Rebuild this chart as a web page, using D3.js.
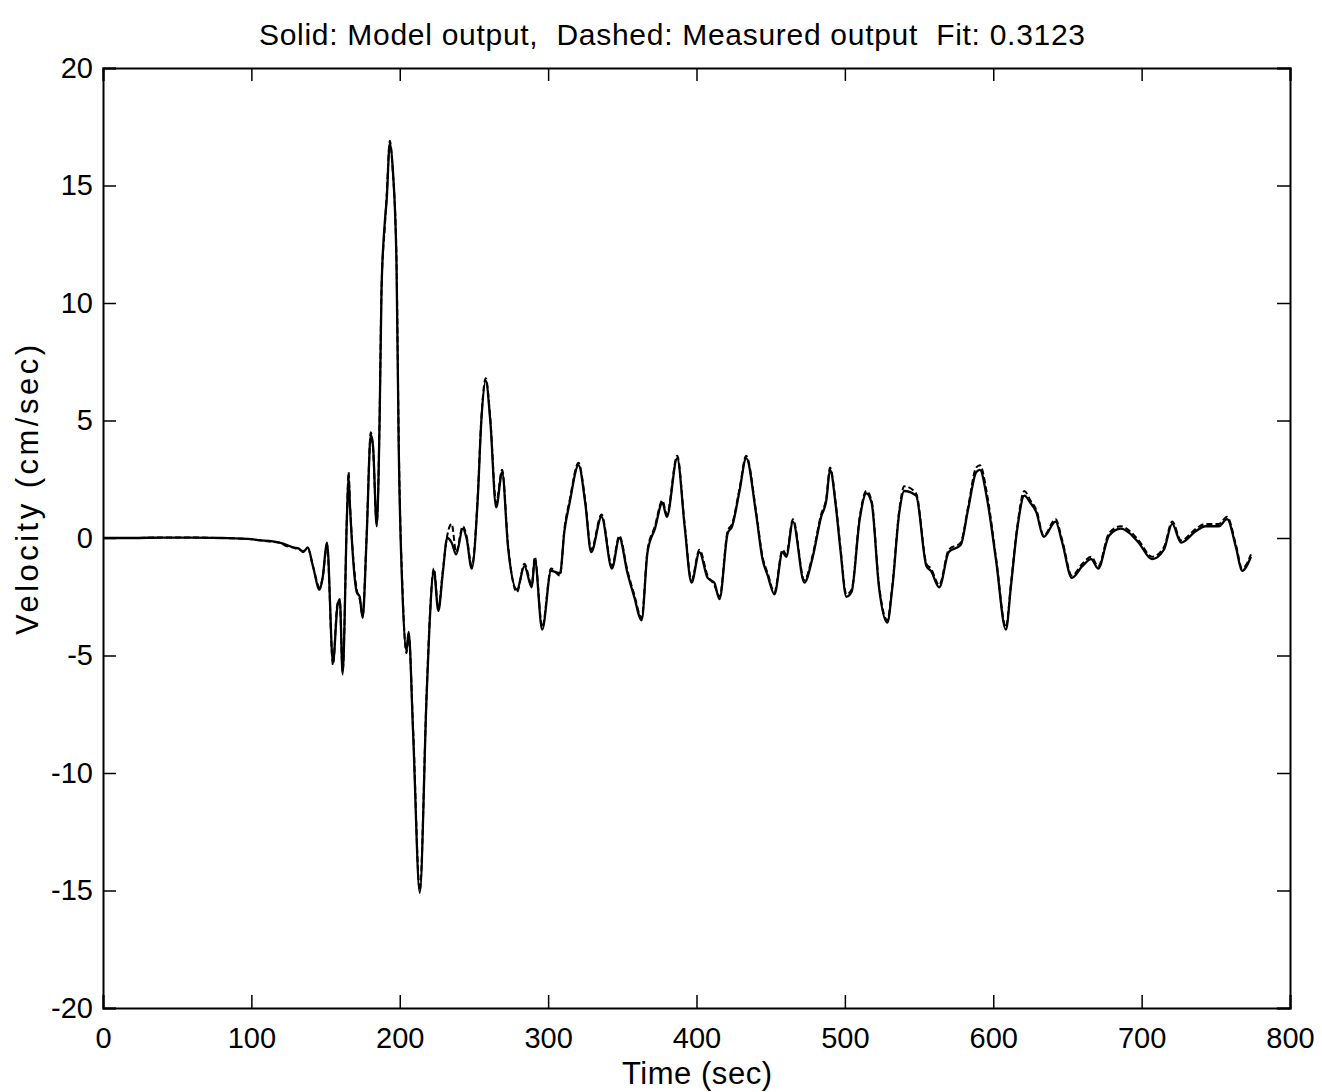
<!DOCTYPE html>
<html>
<head>
<meta charset="utf-8">
<script src="https://cdnjs.cloudflare.com/ajax/libs/d3/7.8.5/d3.min.js"></script>
<style>
  body { margin: 0; background: #fff; }
  text { font-family: "Liberation Sans", Arial, Helvetica, sans-serif; fill: #000; }
</style>
</head>
<body>
<div id="chart"></div>
<script>
// time (sec), velocity (cm/sec)
var modelPts = [
  [0, 0], [20, 0], [40, 0.02], [60, 0.02], [80, 0], [100, -0.05], [106, -0.1], [112, -0.12],
  [119, -0.2], [124, -0.3], [128, -0.4], [132, -0.45], [135, -0.6], [138, -0.4], [141.5, -1.2],
  [146, -2.2], [148, -1.7], [151, -0.2], [155, -5.3], [158, -2.9], [159.6, -2.6], [161.5, -5.8],
  [164.5, 1.1], [165.5, 2.6], [166.5, 1.3], [171, -2.3], [173, -2.5], [175, -3.4], [177.6, -0.1],
  [180.5, 4.4], [182, 3.9], [184.5, 0.5], [186.5, 5.3], [187.7, 10.5], [190, 13.5], [191.2, 14.4],
  [193.3, 16.8], [195.3, 15.7], [197.8, 11.7], [199.3, 3.9], [202, -2.6], [204.5, -4.8], [206, -4.0],
  [209, -8.3], [213.5, -15.1], [218, -6.9], [220, -3.8], [223, -1.4], [226, -3.1], [229, -1.5],
  [232, 0.0], [235, -0.2], [238, -0.7], [242.5, 0.4], [245, 0.0], [248.5, -1.3], [252.5, 1.6],
  [255, 5.0], [258, 6.7], [261, 5.0], [265, 1.3], [269, 2.8], [273, -0.4], [279, -2.2], [284, -1.2],
  [289, -2.1], [291, -0.9], [296, -3.9], [302, -1.4], [308, -1.5], [311, 0.3], [314.5, 1.5],
  [320.5, 3.1], [325, 1.5], [329, -0.6], [336, 0.9], [343, -1.3], [348, 0.0], [353.5, -1.5],
  [358, -2.5], [363, -3.5], [367, -0.6], [372, 0.4], [377, 1.5], [380, 0.9], [387, 3.4], [392, 0.5],
  [396.6, -1.9], [402, -0.6], [407.5, -1.7], [412, -1.9], [415.5, -2.6], [421, 0.2], [424, 0.5],
  [429, 2.0], [433.5, 3.4], [440, 1.1], [444.5, -0.9], [448, -1.6], [452.5, -2.4], [458, -0.6],
  [460.5, -0.8], [465, 0.7], [472.7, -1.9], [478, -0.9], [484, 0.9], [487.5, 1.6], [490, 2.9],
  [494, 1.3], [497, -0.5], [501, -2.5], [504.5, -2.3], [510, 0.8], [514.5, 1.9], [518, 1.5],
  [523, -2.1], [528.6, -3.6], [532, -2.1], [536.7, 1.1], [540, 2.0], [548, 1.8], [555, -1.2],
  [558, -1.4], [563.6, -2.1], [570, -0.6], [578, -0.3], [583, 1.2], [588.5, 2.8], [591, 2.9],
  [596, 1.6], [602, -1.0], [608.5, -3.9], [612, -2.0], [616, 0.3], [621, 1.8], [625, 1.5],
  [629, 1.1], [634, 0.05], [642, 0.7], [646.5, -0.2], [653, -1.7], [660, -1.2], [666, -0.9],
  [670.7, -1.3], [678, 0.1], [686, 0.4], [692, 0.2], [698, -0.2], [707, -0.9], [715, -0.5],
  [720.6, 0.6], [726.6, -0.2], [736.7, 0.3], [743, 0.5], [752, 0.5], [757.6, 0.8], [763.6, -0.4],
  [767.7, -1.4], [773.7, -0.8]
];

var measuredPts = [
  [0, 0], [20, 0], [40, 0.02], [60, 0.02], [80, 0], [100, -0.05], [106, -0.1], [112, -0.15],
  [119, -0.2], [124, -0.35], [128, -0.4], [132, -0.5], [135, -0.55], [138, -0.45], [141.5, -1.2],
  [146, -2.1], [148, -1.7], [151, -0.3], [155, -5.4], [158, -2.8], [159.6, -2.7], [161.5, -5.7],
  [164.5, 1.2], [165.5, 2.8], [166.5, 1.4], [171, -2.2], [173, -2.6], [175, -3.3], [177.6, 0.0],
  [180.5, 4.5], [182, 3.8], [184.5, 0.6], [186.5, 5.4], [187.7, 10.6], [190, 13.3], [191.2, 14.6],
  [193.3, 16.9], [195.3, 15.6], [197.8, 11.9], [199.3, 4.2], [202, -2.4], [204.5, -4.9], [206, -4.1],
  [209, -8.1], [213.5, -15.0], [218, -6.8], [220, -3.7], [223, -1.3], [226, -3.0], [229, -1.4],
  [232, 0.1], [235, 0.6], [238, -0.6], [242.5, 0.5], [245, 0.1], [248.5, -1.2], [252.5, 1.7],
  [255, 5.1], [258, 6.8], [261, 5.1], [265, 1.5], [269, 2.9], [273, -0.3], [279, -2.3], [284, -1.1],
  [289, -2.0], [291, -0.8], [296, -3.8], [302, -1.3], [308, -1.6], [311, 0.4], [314.5, 1.6],
  [320.5, 3.2], [325, 1.6], [329, -0.5], [336, 1.0], [343, -1.2], [348, 0.1], [353.5, -1.4],
  [358, -2.4], [363, -3.4], [367, -0.5], [372, 0.5], [377, 1.6], [380, 1.0], [387, 3.5], [392, 0.6],
  [396.6, -1.8], [402, -0.5], [407.5, -1.6], [412, -2.0], [415.5, -2.5], [421, 0.3], [424, 0.6],
  [429, 2.1], [433.5, 3.5], [440, 1.2], [444.5, -0.8], [448, -1.5], [452.5, -2.3], [458, -0.5],
  [460.5, -0.7], [465, 0.8], [472.7, -1.8], [478, -0.8], [484, 1.0], [487.5, 1.7], [490, 3.0],
  [494, 1.4], [497, -0.4], [501, -2.4], [504.5, -2.2], [510, 0.9], [514.5, 2.0], [518, 1.6],
  [523, -2.0], [528.6, -3.5], [532, -2.0], [536.7, 1.2], [540, 2.2], [548, 1.9], [555, -1.1],
  [558, -1.3], [563.6, -2.0], [570, -0.5], [578, -0.2], [583, 1.3], [588.5, 3.0], [591, 3.1],
  [596, 1.8], [602, -0.9], [608.5, -3.8], [612, -1.9], [616, 0.4], [621, 2.0], [625, 1.6],
  [629, 1.2], [634, 0.1], [642, 0.8], [646.5, -0.1], [653, -1.6], [660, -1.1], [666, -0.8],
  [670.7, -1.2], [678, 0.2], [686, 0.5], [692, 0.3], [698, -0.1], [707, -0.8], [715, -0.4],
  [720.6, 0.7], [726.6, -0.1], [736.7, 0.4], [743, 0.6], [752, 0.6], [757.6, 0.9], [763.6, -0.3],
  [767.7, -1.3], [773.7, -0.7]
];

var xTicks = [0, 100, 200, 300, 400, 500, 600, 700, 800];
var yTicks = [-20, -15, -10, -5, 0, 5, 10, 15, 20];

var titleText = "Solid: Model output,  Dashed: Measured output  Fit: 0.3123";
var xLabel = "Time (sec)";
var yLabel = "Velocity (cm/sec)";

// set the dimensions and margins of the graph
var W = 1322, H = 1092;
var margin = { top: 68, right: 32, bottom: 84, left: 103 },
  width = W - margin.left - margin.right,
  height = H - margin.top - margin.bottom;

var svg = d3
  .select("#chart")
  .append("svg")
  .attr("width", W)
  .attr("height", H);

var g = svg
  .append("g")
  .attr("transform", "translate(" + margin.left + "," + margin.top + ")");

var x = d3.scaleLinear().domain([0, 800]).range([0, width]);
var y = d3.scaleLinear().domain([-20, 20]).range([height, 0]);

var tickLen = 13;
var fontSize = 29;
// plain hyphen for negatives, like the original
var plain = function (d) { return String(d); };

// data lines
var line = d3
  .line()
  .x(function (d) { return x(d[0]); })
  .y(function (d) { return y(d[1]); })
  .curve(d3.curveMonotoneX);

g.append("path")
  .datum(measuredPts)
  .attr("fill", "none")
  .attr("stroke", "#000")
  .attr("stroke-width", 2)
  .attr("stroke-dasharray", "6,3")
  .attr("d", line);

g.append("path")
  .datum(modelPts)
  .attr("fill", "none")
  .attr("stroke", "#000")
  .attr("stroke-width", 2.3)
  .attr("d", line);

// axes, ticks inside on all four sides (matlab box)
var axBottom = g.append("g")
  .attr("transform", "translate(0," + height + ")")
  .call(d3.axisBottom(x).tickValues(xTicks).tickSize(-tickLen).tickPadding(19).tickFormat(plain));
var axTop = g.append("g")
  .call(d3.axisTop(x).tickValues(xTicks).tickSize(-tickLen).tickFormat(""));
var axLeft = g.append("g")
  .call(d3.axisLeft(y).tickValues(yTicks).tickSize(-tickLen).tickPadding(10).tickFormat(plain));
var axRight = g.append("g")
  .attr("transform", "translate(" + width + ",0)")
  .call(d3.axisRight(y).tickValues(yTicks).tickSize(-tickLen).tickFormat(""));

[axBottom, axTop, axLeft, axRight].forEach(function (a) {
  a.select(".domain").attr("stroke", "#000").attr("stroke-width", 2);
  a.selectAll(".tick line").attr("stroke", "#000").attr("stroke-width", 1.5);
  a.selectAll(".tick text")
    .attr("font-family", "'Liberation Sans', Arial, sans-serif")
    .attr("font-size", fontSize)
    .attr("fill", "#000");
});

// Title
svg
  .append("text")
  .attr("x", 672)
  .attr("y", 45)
  .attr("text-anchor", "middle")
  .style("font-size", "30px")
  .style("white-space", "pre")
  .attr("textLength", 826)
  .attr("lengthAdjust", "spacing")
  .text(titleText);

// Axis labels
svg
  .append("text")
  .attr("x", 697)
  .attr("y", 1084)
  .attr("text-anchor", "middle")
  .style("font-size", "31px")
  .attr("textLength", 150)
  .attr("lengthAdjust", "spacing")
  .text(xLabel);

svg
  .append("g")
  .attr("transform", "translate(" + 38 + "," + 490 + ")")
  .append("text")
  .attr("text-anchor", "middle")
  .style("font-size", "31px")
  .attr("transform", "rotate(-90)")
  .attr("textLength", 290)
  .attr("lengthAdjust", "spacing")
  .text(yLabel);
</script>
</body>
</html>
